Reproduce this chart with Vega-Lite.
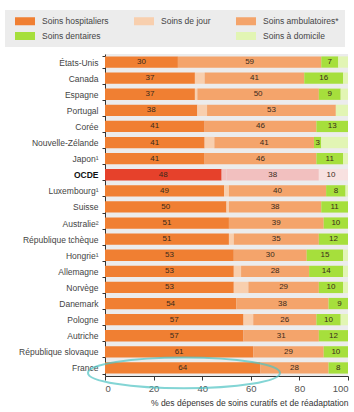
{
  "$schema": "https://vega.github.io/schema/vega-lite/v6.json",
  "autosize": "none",
  "width": 243,
  "height": 322,
  "padding": {"left": 105, "top": 54, "right": 6, "bottom": 36},
  "background": "white",
  "config": {
    "view": {"stroke": null, "fill": "#ececec"},
    "font": "Liberation Sans",
    "axis": {"labelColor": "#444", "titleColor": "#333", "domainColor": "#333", "tickColor": "#333"}
  },
  "datasets": {
    "shares": [
      {"pays": "États-Unis", "cat": "Soins hospitaliers", "k": 1, "v": 30},
      {"pays": "États-Unis", "cat": "Soins ambulatoires*", "k": 3, "v": 59},
      {"pays": "États-Unis", "cat": "Soins dentaires", "k": 4, "v": 7},
      {"pays": "États-Unis", "cat": "Soins à domicile", "k": 5, "v": 4},
      {"pays": "Canada", "cat": "Soins hospitaliers", "k": 1, "v": 37},
      {"pays": "Canada", "cat": "Soins de jour", "k": 2, "v": 4},
      {"pays": "Canada", "cat": "Soins ambulatoires*", "k": 3, "v": 41},
      {"pays": "Canada", "cat": "Soins dentaires", "k": 4, "v": 16},
      {"pays": "Canada", "cat": "Soins à domicile", "k": 5, "v": 2},
      {"pays": "Espagne", "cat": "Soins hospitaliers", "k": 1, "v": 37},
      {"pays": "Espagne", "cat": "Soins de jour", "k": 2, "v": 1},
      {"pays": "Espagne", "cat": "Soins ambulatoires*", "k": 3, "v": 50},
      {"pays": "Espagne", "cat": "Soins dentaires", "k": 4, "v": 9},
      {"pays": "Espagne", "cat": "Soins à domicile", "k": 5, "v": 3},
      {"pays": "Portugal", "cat": "Soins hospitaliers", "k": 1, "v": 38},
      {"pays": "Portugal", "cat": "Soins de jour", "k": 2, "v": 4},
      {"pays": "Portugal", "cat": "Soins ambulatoires*", "k": 3, "v": 53},
      {"pays": "Portugal", "cat": "Soins à domicile", "k": 5, "v": 5},
      {"pays": "Corée", "cat": "Soins hospitaliers", "k": 1, "v": 41},
      {"pays": "Corée", "cat": "Soins ambulatoires*", "k": 3, "v": 46},
      {"pays": "Corée", "cat": "Soins dentaires", "k": 4, "v": 13},
      {"pays": "Nouvelle-Zélande", "cat": "Soins hospitaliers", "k": 1, "v": 41},
      {"pays": "Nouvelle-Zélande", "cat": "Soins de jour", "k": 2, "v": 4},
      {"pays": "Nouvelle-Zélande", "cat": "Soins ambulatoires*", "k": 3, "v": 41},
      {"pays": "Nouvelle-Zélande", "cat": "Soins dentaires", "k": 4, "v": 3},
      {"pays": "Nouvelle-Zélande", "cat": "Soins à domicile", "k": 5, "v": 11},
      {"pays": "Japon¹", "cat": "Soins hospitaliers", "k": 1, "v": 41},
      {"pays": "Japon¹", "cat": "Soins ambulatoires*", "k": 3, "v": 46},
      {"pays": "Japon¹", "cat": "Soins dentaires", "k": 4, "v": 11},
      {"pays": "Japon¹", "cat": "Soins à domicile", "k": 5, "v": 2},
      {"pays": "OCDE", "cat": "OCDE hospitaliers", "k": 1, "v": 48},
      {"pays": "OCDE", "cat": "OCDE jour", "k": 2, "v": 2},
      {"pays": "OCDE", "cat": "OCDE ambulatoires", "k": 3, "v": 38},
      {"pays": "OCDE", "cat": "OCDE dentaires", "k": 4, "v": 10},
      {"pays": "OCDE", "cat": "OCDE domicile", "k": 5, "v": 2},
      {"pays": "Luxembourg¹", "cat": "Soins hospitaliers", "k": 1, "v": 49},
      {"pays": "Luxembourg¹", "cat": "Soins de jour", "k": 2, "v": 2},
      {"pays": "Luxembourg¹", "cat": "Soins ambulatoires*", "k": 3, "v": 40},
      {"pays": "Luxembourg¹", "cat": "Soins dentaires", "k": 4, "v": 8},
      {"pays": "Luxembourg¹", "cat": "Soins à domicile", "k": 5, "v": 1},
      {"pays": "Suisse", "cat": "Soins hospitaliers", "k": 1, "v": 50},
      {"pays": "Suisse", "cat": "Soins de jour", "k": 2, "v": 1},
      {"pays": "Suisse", "cat": "Soins ambulatoires*", "k": 3, "v": 38},
      {"pays": "Suisse", "cat": "Soins dentaires", "k": 4, "v": 11},
      {"pays": "Australie²", "cat": "Soins hospitaliers", "k": 1, "v": 51},
      {"pays": "Australie²", "cat": "Soins ambulatoires*", "k": 3, "v": 39},
      {"pays": "Australie²", "cat": "Soins dentaires", "k": 4, "v": 10},
      {"pays": "République tchèque", "cat": "Soins hospitaliers", "k": 1, "v": 51},
      {"pays": "République tchèque", "cat": "Soins de jour", "k": 2, "v": 2},
      {"pays": "République tchèque", "cat": "Soins ambulatoires*", "k": 3, "v": 35},
      {"pays": "République tchèque", "cat": "Soins dentaires", "k": 4, "v": 12},
      {"pays": "Hongrie¹", "cat": "Soins hospitaliers", "k": 1, "v": 53},
      {"pays": "Hongrie¹", "cat": "Soins ambulatoires*", "k": 3, "v": 30},
      {"pays": "Hongrie¹", "cat": "Soins dentaires", "k": 4, "v": 15},
      {"pays": "Hongrie¹", "cat": "Soins à domicile", "k": 5, "v": 2},
      {"pays": "Allemagne", "cat": "Soins hospitaliers", "k": 1, "v": 53},
      {"pays": "Allemagne", "cat": "Soins de jour", "k": 2, "v": 3},
      {"pays": "Allemagne", "cat": "Soins ambulatoires*", "k": 3, "v": 28},
      {"pays": "Allemagne", "cat": "Soins dentaires", "k": 4, "v": 14},
      {"pays": "Allemagne", "cat": "Soins à domicile", "k": 5, "v": 2},
      {"pays": "Norvège", "cat": "Soins hospitaliers", "k": 1, "v": 53},
      {"pays": "Norvège", "cat": "Soins de jour", "k": 2, "v": 6},
      {"pays": "Norvège", "cat": "Soins ambulatoires*", "k": 3, "v": 29},
      {"pays": "Norvège", "cat": "Soins dentaires", "k": 4, "v": 10},
      {"pays": "Norvège", "cat": "Soins à domicile", "k": 5, "v": 2},
      {"pays": "Danemark", "cat": "Soins hospitaliers", "k": 1, "v": 54},
      {"pays": "Danemark", "cat": "Soins ambulatoires*", "k": 3, "v": 38},
      {"pays": "Danemark", "cat": "Soins dentaires", "k": 4, "v": 9},
      {"pays": "Pologne", "cat": "Soins hospitaliers", "k": 1, "v": 57},
      {"pays": "Pologne", "cat": "Soins de jour", "k": 2, "v": 4},
      {"pays": "Pologne", "cat": "Soins ambulatoires*", "k": 3, "v": 26},
      {"pays": "Pologne", "cat": "Soins dentaires", "k": 4, "v": 10},
      {"pays": "Pologne", "cat": "Soins à domicile", "k": 5, "v": 3},
      {"pays": "Autriche", "cat": "Soins hospitaliers", "k": 1, "v": 57},
      {"pays": "Autriche", "cat": "Soins ambulatoires*", "k": 3, "v": 31},
      {"pays": "Autriche", "cat": "Soins dentaires", "k": 4, "v": 12},
      {"pays": "République slovaque", "cat": "Soins hospitaliers", "k": 1, "v": 61},
      {"pays": "République slovaque", "cat": "Soins ambulatoires*", "k": 3, "v": 29},
      {"pays": "République slovaque", "cat": "Soins dentaires", "k": 4, "v": 10},
      {"pays": "France", "cat": "Soins hospitaliers", "k": 1, "v": 64},
      {"pays": "France", "cat": "Soins ambulatoires*", "k": 3, "v": 28},
      {"pays": "France", "cat": "Soins dentaires", "k": 4, "v": 8}
    ],
    "mark": [{"pays": "France", "x": 32.5}]
  },
  "layer": [
    {
      "data": {"name": "shares"},
      "transform": [
        {"stack": "v", "groupby": ["pays"], "sort": [{"field": "k"}], "as": ["s0", "s1"]}
      ],
      "mark": {"type": "bar", "clip": true},
      "encoding": {
        "y": {
          "field": "pays", "type": "nominal", "sort": null,
          "scale": {"paddingInner": 0.3, "paddingOuter": 0.15},
          "axis": {
            "title": null, "labelFontSize": 8.5, "tickBand": "extent", "tickSize": 3, "labelPadding": 4,
            "labelFontWeight": {"condition": {"test": "datum.value === 'OCDE'", "value": "bold"}, "value": "normal"},
            "labelColor": {"condition": {"test": "datum.value === 'OCDE'", "value": "#111"}, "value": "#444"}
          }
        },
        "x": {
          "field": "s0", "type": "quantitative",
          "scale": {"domain": [0, 100], "nice": false},
          "axis": {
            "title": "% des dépenses de soins curatifs et de réadaptation", "titleFontSize": 8.5, "titleFontWeight": "normal",
            "titleAnchor": "end", "titlePadding": 6,
            "values": [0, 20, 40, 60, 80, 100], "labelFontSize": 9.5, "labelColor": "#555", "tickSize": 4, "labelPadding": 3, "grid": false
          }
        },
        "x2": {"field": "s1"},
        "color": {
          "field": "cat", "type": "nominal",
          "scale": {
            "domain": ["Soins hospitaliers", "Soins de jour", "Soins ambulatoires*", "Soins dentaires", " ", "Soins à domicile", "OCDE hospitaliers", "OCDE jour", "OCDE ambulatoires", "OCDE dentaires", "OCDE domicile"],
            "range": ["#f07f32", "#f8cfae", "#f4a46b", "#a6df3c", "transparent", "#e2f5b4", "#e6412b", "#f2c0bf", "#f2c0bf", "#f8e1e0", "#f8e1e0"]
          },
          "legend": {
            "values": ["Soins hospitaliers", "Soins de jour", "Soins ambulatoires*", "Soins dentaires", " ", "Soins à domicile"],
            "title": null, "orient": "none", "legendX": -100, "legendY": -44, "direction": "horizontal", "columns": 3,
            "columnPadding": 21, "rowPadding": 5, "padding": 6, "fillColor": "#ececec",
            "symbolType": "M-0.2,-0.8H3.8V0.8H-0.2Z", "symbolSize": 100, "symbolStrokeWidth": 0, "labelOffset": 21,
            "labelFontSize": 8.5, "labelColor": "#444", "symbolOpacity": 1
          }
        }
      }
    },
    {
      "data": {"name": "shares"},
      "transform": [
        {"stack": "v", "groupby": ["pays"], "sort": [{"field": "k"}], "as": ["s0", "s1"]},
        {"calculate": "(datum.s0 + datum.s1) / 2", "as": "mid"},
        {"filter": "datum.k == 1 || datum.k == 3 || datum.k == 4"}
      ],
      "mark": {"type": "text", "fontSize": 8, "color": "#3a2a1a"},
      "encoding": {
        "y": {"field": "pays", "type": "nominal", "sort": null},
        "x": {"field": "mid", "type": "quantitative"},
        "text": {"field": "v", "type": "quantitative"}
      }
    },
    {
      "data": {"name": "mark"},
      "mark": {"type": "point", "shape": "M-1,0A1,0.16 0 1,0 1,0A1,0.16 0 1,0 -1,0Z", "size": 36864, "filled": false, "stroke": "#4fc4c4", "strokeWidth": 2, "yOffset": 5, "clip": false},
      "encoding": {
        "y": {"field": "pays", "type": "nominal", "sort": null},
        "x": {"field": "x", "type": "quantitative"}
      }
    }
  ]
}
